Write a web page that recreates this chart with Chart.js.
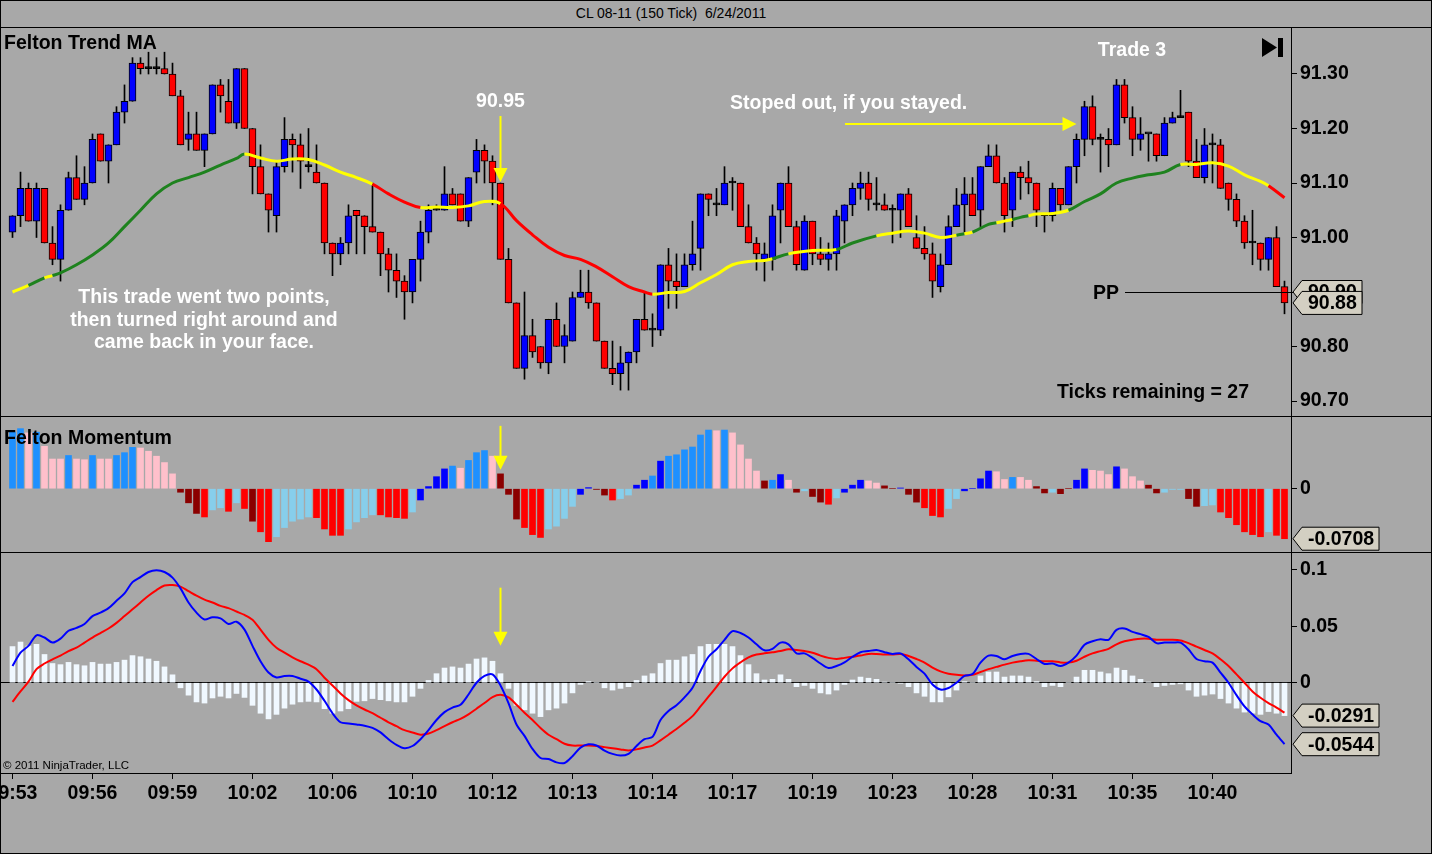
<!DOCTYPE html>
<html>
<head>
<meta charset="utf-8">
<title>CL 08-11 (150 Tick) 6/24/2011</title>
<script src="https://cdn.jsdelivr.net/npm/chart.js@4.4.1/dist/chart.umd.min.js"></script>
<style>
  html, body { margin: 0; padding: 0; background: #a8a8a8; }
  #page { position: relative; width: 1432px; height: 854px; overflow: hidden; background: #a8a8a8; font-family: "Liberation Sans", Arial, sans-serif; }
  #title { position: absolute; left: 0; top: 4px; width: 1342px; text-align: center; font-size: 14px; line-height: 18px; white-space: pre; color: #000; }
  canvas { position: absolute; left: 0; }
  .rule { position: absolute; left: 0; width: 1432px; height: 1px; background: #000; }
  #frame { position: absolute; left: 0; top: 0; width: 1432px; height: 854px; box-sizing: border-box; border: 1px solid #000; pointer-events: none; }
</style>
</head>
<body>
<div id="page">
  <div id="title">CL 08-11 (150 Tick)  6/24/2011</div>
  <canvas id="priceChart" width="1432" height="388" style="top:28px"></canvas>
  <canvas id="momChart" width="1432" height="136" style="top:416px"></canvas>
  <canvas id="macdChart" width="1432" height="302" style="top:552px"></canvas>
  <div class="rule" style="top:27px"></div>
  <div class="rule" style="top:416px"></div>
  <div class="rule" style="top:552px"></div>
  <div id="frame"></div>
</div>
<script>
// bar i sits at 12.5 + 8*i px in all three panels
var X_MIN = -1.5625, X_MAX = 159.8125;
var AXIS_W = 141;
var FONT = '"Liberation Sans", Arial, sans-serif';

// 150 tick bars
var opens = [
    91.01, 91.04, 91.09, 91.03, 91.09, 90.99, 90.96, 91.05, 91.11, 91.07,
    91.10, 91.19, 91.14, 91.17, 91.23, 91.25, 91.32, 91.31, 91.31, 91.31,
    91.30, 91.26, 91.18, 91.19, 91.16, 91.19, 91.28, 91.25, 91.21, 91.31,
    91.20, 91.13, 91.08, 91.04, 91.13, 91.18, 91.17, 91.13, 91.12, 91.10,
    90.99, 90.97, 90.99, 91.05, 91.04, 91.02, 91.01, 90.97, 90.94, 90.92,
    90.90, 90.96, 91.01, 91.05, 91.05, 91.08, 91.08, 91.03, 91.12, 91.16,
    91.14, 91.10, 90.96, 90.88, 90.76, 90.82, 90.80, 90.77, 90.85, 90.80,
    90.81, 90.89, 90.90, 90.88, 90.81, 90.76, 90.75, 90.77, 90.79, 90.85,
    90.83, 90.83, 90.95, 90.92, 90.91, 90.95, 90.98, 91.08, 91.06, 91.06,
    91.10, 91.10, 91.02, 90.99, 90.96, 90.96, 91.05, 91.10, 91.02, 90.94,
    91.03, 90.97, 90.96, 90.97, 91.03, 91.06, 91.09, 91.10, 91.06, 91.06,
    91.05, 91.05, 91.08, 91.00, 90.98, 90.97, 90.91, 90.95, 91.02, 91.06,
    91.08, 91.05, 91.13, 91.15, 91.10, 91.05, 91.12, 91.11, 91.10, 91.04,
    91.04, 91.09, 91.06, 91.13, 91.18, 91.24, 91.18, 91.18, 91.17, 91.28,
    91.22, 91.18, 91.19, 91.19, 91.15, 91.21, 91.22, 91.23, 91.14, 91.11,
    91.17, 91.17, 91.10, 91.07, 91.03, 90.99, 90.99, 90.96, 91.00, 90.91
];
var highs = [
    91.04, 91.12, 91.10, 91.10, 91.09, 91.02, 91.06, 91.12, 91.15, 91.13,
    91.19, 91.19, 91.17, 91.24, 91.28, 91.33, 91.33, 91.34, 91.33, 91.34,
    91.32, 91.27, 91.23, 91.23, 91.19, 91.28, 91.29, 91.29, 91.31, 91.31,
    91.20, 91.17, 91.08, 91.14, 91.22, 91.19, 91.19, 91.20, 91.17, 91.10,
    90.99, 91.00, 91.06, 91.05, 91.04, 91.10, 91.01, 90.98, 90.97, 90.93,
    90.96, 91.03, 91.06, 91.06, 91.13, 91.09, 91.08, 91.11, 91.18, 91.17,
    91.15, 91.10, 90.98, 90.88, 90.90, 90.85, 90.80, 90.85, 90.88, 90.84,
    90.90, 90.94, 90.94, 90.88, 90.81, 90.81, 90.80, 90.79, 90.85, 90.90,
    90.86, 90.95, 90.98, 90.97, 90.97, 91.03, 91.08, 91.08, 91.09, 91.13,
    91.11, 91.10, 91.06, 91.00, 90.99, 91.06, 91.10, 91.13, 91.03, 91.04,
    91.03, 91.00, 90.99, 91.05, 91.06, 91.10, 91.12, 91.12, 91.11, 91.08,
    91.06, 91.08, 91.09, 91.04, 91.02, 90.99, 90.97, 91.04, 91.09, 91.11,
    91.11, 91.13, 91.17, 91.17, 91.11, 91.12, 91.13, 91.14, 91.10, 91.04,
    91.10, 91.09, 91.13, 91.19, 91.25, 91.26, 91.19, 91.20, 91.29, 91.29,
    91.24, 91.22, 91.19, 91.19, 91.22, 91.23, 91.27, 91.23, 91.18, 91.20,
    91.19, 91.18, 91.10, 91.08, 91.04, 91.05, 90.99, 91.00, 91.02, 90.92
];
var lows = [
    91.00, 91.02, 91.03, 91.00, 90.99, 90.95, 90.92, 91.05, 91.07, 91.06,
    91.10, 91.14, 91.10, 91.17, 91.21, 91.25, 91.30, 91.30, 91.30, 91.30,
    91.26, 91.17, 91.16, 91.16, 91.13, 91.19, 91.23, 91.21, 91.20, 91.20,
    91.08, 91.08, 91.01, 91.01, 91.12, 91.12, 91.09, 91.12, 91.10, 90.97,
    90.93, 90.95, 90.97, 90.97, 90.97, 91.01, 90.93, 90.90, 90.89, 90.85,
    90.88, 90.92, 90.99, 91.05, 91.05, 91.06, 91.03, 91.02, 91.10, 91.10,
    91.06, 90.96, 90.88, 90.76, 90.74, 90.78, 90.76, 90.75, 90.80, 90.77,
    90.81, 90.89, 90.87, 90.81, 90.76, 90.73, 90.72, 90.72, 90.77, 90.83,
    90.80, 90.82, 90.87, 90.87, 90.91, 90.94, 90.94, 91.04, 91.04, 91.06,
    91.05, 91.02, 90.99, 90.94, 90.92, 90.94, 90.99, 91.02, 90.94, 90.94,
    90.95, 90.95, 90.94, 90.94, 90.99, 91.04, 91.07, 91.05, 91.05, 91.05,
    90.99, 91.00, 91.02, 90.98, 90.96, 90.89, 90.90, 90.95, 91.02, 91.01,
    91.04, 91.02, 91.13, 91.10, 91.01, 91.02, 91.07, 91.08, 91.02, 91.01,
    91.03, 91.05, 91.06, 91.10, 91.15, 91.17, 91.12, 91.13, 91.17, 91.21,
    91.15, 91.16, 91.14, 91.14, 91.15, 91.21, 91.22, 91.13, 91.11, 91.10,
    91.10, 91.09, 91.05, 91.02, 90.98, 90.95, 90.94, 90.94, 90.91, 90.86
];
var closes = [
    91.04, 91.09, 91.03, 91.09, 90.99, 90.96, 91.05, 91.11, 91.07, 91.10,
    91.18, 91.14, 91.17, 91.23, 91.25, 91.32, 91.31, 91.31, 91.31, 91.30,
    91.26, 91.17, 91.19, 91.16, 91.19, 91.28, 91.26, 91.21, 91.31, 91.20,
    91.13, 91.08, 91.05, 91.13, 91.18, 91.17, 91.14, 91.13, 91.10, 90.99,
    90.97, 90.99, 91.04, 91.04, 91.02, 91.01, 90.97, 90.94, 90.92, 90.90,
    90.96, 91.01, 91.05, 91.05, 91.08, 91.06, 91.03, 91.11, 91.16, 91.14,
    91.10, 90.96, 90.88, 90.76, 90.82, 90.79, 90.77, 90.85, 90.80, 90.82,
    90.89, 90.90, 90.88, 90.81, 90.76, 90.75, 90.77, 90.79, 90.85, 90.83,
    90.83, 90.95, 90.92, 90.91, 90.95, 90.97, 91.08, 91.07, 91.06, 91.10,
    91.10, 91.02, 90.99, 90.97, 90.97, 91.04, 91.10, 91.02, 90.95, 91.03,
    90.97, 90.96, 90.97, 91.04, 91.06, 91.09, 91.10, 91.07, 91.06, 91.05,
    91.05, 91.08, 91.02, 90.98, 90.97, 90.92, 90.95, 91.02, 91.06, 91.08,
    91.04, 91.13, 91.15, 91.10, 91.04, 91.12, 91.11, 91.10, 91.05, 91.04,
    91.09, 91.06, 91.13, 91.18, 91.24, 91.18, 91.18, 91.17, 91.28, 91.22,
    91.18, 91.19, 91.19, 91.15, 91.21, 91.22, 91.22, 91.14, 91.11, 91.17,
    91.17, 91.09, 91.07, 91.03, 90.99, 90.99, 90.96, 91.00, 90.91, 90.88
];

// Felton Trend MA, sampled along the line; trend u = rising, f = flat, d = falling
var maBars = [0, 2, 4, 5, 6, 8, 10, 12, 14, 16, 18, 20, 22, 24, 26, 28, 29, 31, 33, 35,
    37, 39, 41, 43, 45, 47, 49, 51, 53, 55, 57, 59, 61, 63, 65, 67, 69, 71, 73, 75,
    77, 79, 80, 82, 84, 86, 88, 90, 92, 94, 95, 97, 100, 103, 105, 108, 110, 112, 114, 116,
    118, 119, 120, 122, 123, 124, 125, 126, 127, 128, 130, 132, 134, 136, 138, 140, 142, 144, 146, 148,
    150, 152, 154, 156, 157, 159];
var maValues = [90.900, 90.912, 90.926, 90.930, 90.935, 90.950, 90.968, 90.990, 91.020, 91.050,
    91.080, 91.100, 91.110, 91.120, 91.133, 91.145, 91.153, 91.146, 91.140, 91.144,
    91.143, 91.133, 91.120, 91.110, 91.098, 91.080, 91.065, 91.055, 91.056, 91.055,
    91.058, 91.066, 91.062, 91.031, 91.005, 90.982, 90.967, 90.960, 90.946, 90.928,
    90.910, 90.900, 90.896, 90.899, 90.901, 90.917, 90.932, 90.950, 90.956, 90.958,
    90.961, 90.970, 90.976, 90.978, 90.990, 91.003, 91.008, 91.012, 91.008, 91.000,
    91.004, 91.007, 91.010, 91.024, 91.027, 91.030, 91.033, 91.037, 91.040, 91.043,
    91.044, 91.050, 91.066, 91.080, 91.100, 91.109, 91.115, 91.120, 91.134, 91.134,
    91.137, 91.131, 91.115, 91.103, 91.095, 91.073];
var maTrend = ['f', 'u', 'f', 'u', 'u', 'u', 'u', 'u', 'u', 'u', 'u', 'u', 'u', 'u', 'u', 'u', 'f', 'f', 'f', 'f',
    'f', 'f', 'f', 'f', 'd', 'd', 'd', 'f', 'f', 'f', 'f', 'f', 'd', 'd', 'd', 'd', 'd', 'd', 'd', 'd',
    'd', 'd', 'f', 'f', 'f', 'f', 'f', 'f', 'f', 'f', 'u', 'f', 'f', 'u', 'u', 'f', 'f', 'f', 'f', 'f',
    'u', 'f', 'u', 'u', 'f', 'f', 'u', 'u', 'f', 'f', 'f', 'u', 'u', 'u', 'u', 'u', 'u', 'u', 'f', 'f',
    'f', 'f', 'f', 'f', 'd', 'd'];

// Felton Momentum histogram and its colour state per bar
var momentum = [
    0.080, 0.085, 0.079, 0.080, 0.060, 0.042, 0.042, 0.047, 0.042, 0.041,
    0.047, 0.042, 0.042, 0.047, 0.051, 0.0585, 0.0576, 0.053, 0.046, 0.037,
    0.021, -0.005, -0.020, -0.035, -0.040, -0.030, -0.027, -0.032, -0.020, -0.028,
    -0.046, -0.061, -0.075, -0.068, -0.055, -0.046, -0.043, -0.040, -0.041, -0.057,
    -0.066, -0.066, -0.057, -0.047, -0.041, -0.037, -0.037, -0.040, -0.041, -0.042,
    -0.033, -0.016, 0.003, 0.017, 0.028, 0.032, 0.029, 0.040, 0.051, 0.054,
    0.046, 0.021, -0.008, -0.043, -0.055, -0.065, -0.069, -0.057, -0.053, -0.042,
    -0.025, -0.008, 0.0015, -0.001, -0.009, -0.016, -0.014, -0.009, 0.005, 0.012,
    0.018, 0.039, 0.046, 0.048, 0.055, 0.059, 0.076, 0.083, 0.082, 0.083,
    0.079, 0.062, 0.042, 0.025, 0.011, 0.012, 0.020, 0.012, -0.005, -0.003,
    -0.011, -0.019, -0.022, -0.013, -0.005, 0.005, 0.012, 0.011, 0.008, 0.004,
    0.000, 0.001, -0.008, -0.019, -0.027, -0.038, -0.040, -0.028, -0.014, -0.003,
    0.000, 0.014, 0.025, 0.024, 0.013, 0.016, 0.016, 0.012, 0.003, -0.006,
    -0.005, -0.007, 0.000, 0.012, 0.028, 0.026, 0.025, 0.020, 0.031, 0.028,
    0.017, 0.011, 0.005, -0.006, -0.005, -0.001, -0.001, -0.014, -0.025, -0.024,
    -0.023, -0.033, -0.041, -0.051, -0.061, -0.065, -0.068, -0.061, -0.066, -0.0708
];
// D dodger blue, B blue, P pink, M dark red, R red, L light blue
var momState = ('DDPDPPPDPPDPPDDDPPPPP' + 'MMMRLLRLRMRRLLLLLRR' +
    'RRLLLLRRRRLBBBBDPDDD' + 'PMMMRRRLLLLBBMMRLLBB' + 'DBDDDDDDPDPPPPMDBPML' +
    'MMRLBBBPPMMBMMRRRLLB' + 'BBBPPDPPMMLMMBBPPPBP' + 'PPMMLLLMMLLRRRRRRLRR').split('');

// MACD panel: histogram, fast line, signal line
var macdHist = [
    0.032, 0.036, 0.0325, 0.034, 0.025, 0.017, 0.016, 0.018, 0.016, 0.015,
    0.018, 0.0165, 0.0165, 0.018, 0.020, 0.024, 0.023, 0.021, 0.019, 0.014,
    0.007, -0.0045, -0.011, -0.017, -0.018, -0.0135, -0.012, -0.0135, -0.0095, -0.013,
    -0.020, -0.027, -0.032, -0.028, -0.0225, -0.019, -0.017, -0.0165, -0.017, -0.023,
    -0.027, -0.025, -0.023, -0.0165, -0.016, -0.014, -0.015, -0.016, -0.017, -0.017,
    -0.012, -0.005, 0.002, 0.008, 0.013, 0.014, 0.013, 0.0165, 0.021, 0.022,
    0.019, 0.008, -0.005, -0.020, -0.024, -0.027, -0.030, -0.024, -0.0225, -0.018,
    -0.009, -0.0015, 0.001, 0.000, -0.0045, -0.0065, -0.005, -0.0035, 0.002, 0.006,
    0.008, 0.017, 0.020, 0.020, 0.023, 0.025, 0.032, 0.034, 0.034, 0.034,
    0.032, 0.024, 0.016, 0.008, 0.0024, 0.003, 0.007, 0.003, -0.0035, -0.0024,
    -0.005, -0.009, -0.010, -0.0065, -0.0015, 0.0024, 0.005, 0.004, 0.003, 0.0006,
    0.000, -0.0005, -0.0035, -0.009, -0.012, -0.017, -0.017, -0.0125, -0.0065, 0.001,
    0.000, 0.006, 0.0095, 0.0095, 0.005, 0.006, 0.006, 0.005, 0.001, -0.0035,
    -0.0024, -0.0035, 0.000, 0.005, 0.011, 0.011, 0.0095, 0.008, 0.013, 0.011,
    0.006, 0.003, 0.0006, -0.0035, -0.0024, -0.0015, -0.001, -0.0065, -0.012, -0.011,
    -0.010, -0.014, -0.018, -0.0225, -0.026, -0.027, -0.028, -0.0255, -0.027, -0.0291
];
var macdLine = [
    0.0148, 0.0266, 0.0326, 0.042, 0.040, 0.0355, 0.039, 0.046, 0.0485, 0.052,
    0.059, 0.062, 0.066, 0.0725, 0.079, 0.089, 0.0935, 0.098, 0.0995, 0.098,
    0.093, 0.0835, 0.071, 0.062, 0.056, 0.058, 0.057, 0.052, 0.054, 0.047,
    0.0326, 0.019, 0.009, 0.0047, 0.006, 0.006, 0.0035, 0.001, -0.006, -0.016,
    -0.027, -0.035, -0.036, -0.037, -0.038, -0.040, -0.044, -0.050, -0.055, -0.058,
    -0.056, -0.050, -0.042, -0.033, -0.026, -0.022, -0.0195, -0.0104, 0.000, 0.006,
    0.0074, -0.0024, -0.018, -0.037, -0.047, -0.0586, -0.0666, -0.0675, -0.0705, -0.071,
    -0.065, -0.0574, -0.0545, -0.0556, -0.060, -0.063, -0.0645, -0.063, -0.056, -0.050,
    -0.048, -0.033, -0.025, -0.020, -0.013, -0.0044, 0.0104, 0.023, 0.0296, 0.038,
    0.0456, 0.044, 0.040, 0.034, 0.0287, 0.030, 0.0355, 0.034, 0.026, 0.026,
    0.022, 0.017, 0.013, 0.0148, 0.018, 0.023, 0.027, 0.028, 0.029, 0.027,
    0.0255, 0.026, 0.0207, 0.014, 0.008, -0.0015, -0.006, -0.0047, 0.000, 0.006,
    0.0077, 0.0178, 0.024, 0.0237, 0.0207, 0.0237, 0.0255, 0.0255, 0.021, 0.0166,
    0.017, 0.0148, 0.0178, 0.024, 0.0337, 0.0367, 0.0385, 0.038, 0.0468, 0.048,
    0.045, 0.043, 0.0405, 0.035, 0.0355, 0.0355, 0.0355, 0.0296, 0.021, 0.019,
    0.0178, 0.009, 0.000, -0.011, -0.021, -0.028, -0.034, -0.037, -0.046, -0.0544
];
var signalLine = [
    -0.017, -0.0077, 0.001, 0.012, 0.017, 0.0207, 0.024, 0.028, 0.031, 0.0355,
    0.040, 0.044, 0.048, 0.053, 0.059, 0.065, 0.071, 0.077, 0.082, 0.086,
    0.0865, 0.085, 0.081, 0.077, 0.0735, 0.071, 0.068, 0.066, 0.063, 0.060,
    0.0557, 0.047, 0.038, 0.031, 0.0266, 0.0225, 0.019, 0.016, 0.012, 0.0044,
    -0.0024, -0.0095, -0.0154, -0.020, -0.0237, -0.027, -0.031, -0.035, -0.0385, -0.042,
    -0.044, -0.046, -0.045, -0.042, -0.0385, -0.035, -0.032, -0.028, -0.023, -0.018,
    -0.0127, -0.0107, -0.013, -0.0195, -0.0266, -0.033, -0.040, -0.046, -0.050, -0.054,
    -0.0556, -0.0556, -0.0556, -0.056, -0.057, -0.058, -0.059, -0.060, -0.059, -0.0574,
    -0.0556, -0.051, -0.046, -0.041, -0.0355, -0.0296, -0.021, -0.0124, -0.0036, 0.0053,
    0.0127, 0.018, 0.0225, 0.025, 0.026, 0.027, 0.028, 0.0296, 0.029, 0.028,
    0.0266, 0.024, 0.022, 0.021, 0.022, 0.023, 0.024, 0.0255, 0.0255, 0.025,
    0.025, 0.0255, 0.0237, 0.021, 0.0178, 0.0133, 0.010, 0.008, 0.007, 0.0065,
    0.007, 0.0095, 0.012, 0.014, 0.016, 0.0178, 0.019, 0.0198, 0.0195, 0.019,
    0.019, 0.018, 0.0178, 0.0195, 0.023, 0.026, 0.028, 0.030, 0.034, 0.0367,
    0.038, 0.039, 0.039, 0.038, 0.038, 0.038, 0.0373, 0.035, 0.032, 0.029,
    0.026, 0.0207, 0.0148, 0.0074, 0.000, -0.0077, -0.0133, -0.018, -0.022, -0.0265
];

var priceTicks = [90.70, 90.80, 90.90, 91.00, 91.10, 91.20, 91.30];
var momTicks = [0];
var macdTicks = [0, 0.05, 0.1];
var timeTickBars = [0, 10, 20, 30, 40, 50, 60, 70, 80, 90, 100, 110, 120, 130, 140, 150];
var timeLabels = ['09:53', '09:56', '09:59', '10:02', '10:06', '10:10', '10:12', '10:13',
    '10:14', '10:17', '10:19', '10:23', '10:28', '10:31', '10:35', '10:40'];
var ppLevel = 90.90;
var macdTags = [-0.0291, -0.0544];
var signalBar = 61;

var trendColor = { u: '#1e821e', f: '#ffff00', d: '#ff0000' };
var momColor = { D: '#1e90ff', B: '#0000ff', P: '#ffc0cb', M: '#8b0000', R: '#ff0000', L: '#87ceeb' };

Chart.defaults.font.family = FONT;
Chart.defaults.color = '#000';

function byBar(values) {
    return values.map(function (v, i) { return { x: i, y: v }; });
}

function hiddenX() {
    return { type: 'linear', display: false, min: X_MIN, max: X_MAX, bounds: 'data', offset: false };
}

function rightAxis(min, max, tickValues, fmt, zeroLine) {
    return {
        position: 'right', min: min, max: max, bounds: 'data',
        afterBuildTicks: function (s) { s.ticks = tickValues.map(function (v) { return { value: v }; }); },
        afterFit: function (s) { s.width = AXIS_W; s.paddingTop = 0; s.paddingBottom = 0; },
        ticks: { color: '#000', padding: 3, autoSkip: false, font: { size: 19.5, weight: 'bold' }, callback: fmt },
        grid: {
            drawOnChartArea: !!zeroLine, tickColor: '#000', tickLength: 6, lineWidth: 1,
            color: function (c) { return c.tick && c.tick.value === 0 ? '#000' : 'rgba(0,0,0,0)'; }
        },
        border: { display: true, color: '#000', width: 1 }
    };
}

function baseOptions() {
    return {
        responsive: false, animation: false, events: [],
        layout: { padding: 0 },
        plugins: { legend: { display: false }, tooltip: { enabled: false } }
    };
}

function text(ctx, str, x, y, color, align, size, weight) {
    ctx.font = (weight || 'bold') + ' ' + (size || 19.5) + 'px ' + FONT;
    ctx.fillStyle = color;
    ctx.textAlign = align || 'left';
    ctx.textBaseline = 'middle';
    ctx.fillText(str, x, y);
}

function arrowDown(ctx, x, tipY, len) {
    ctx.strokeStyle = '#ffff00';
    ctx.fillStyle = '#ffff00';
    ctx.lineWidth = 2;
    ctx.beginPath();
    ctx.moveTo(x, tipY - len);
    ctx.lineTo(x, tipY - 12);
    ctx.stroke();
    ctx.beginPath();
    ctx.moveTo(x - 7, tipY - 14);
    ctx.lineTo(x + 7, tipY - 14);
    ctx.lineTo(x, tipY);
    ctx.closePath();
    ctx.fill();
}

function tag(ctx, tipX, y, w, str) {
    var h = 23, x0 = tipX + 9;
    ctx.beginPath();
    ctx.moveTo(tipX, y);
    ctx.lineTo(x0, y - h / 2);
    ctx.lineTo(x0 + w, y - h / 2);
    ctx.lineTo(x0 + w, y + h / 2);
    ctx.lineTo(x0, y + h / 2);
    ctx.closePath();
    ctx.fillStyle = '#d3cfc2';
    ctx.fill();
    ctx.strokeStyle = '#000';
    ctx.lineWidth = 1;
    ctx.stroke();
    text(ctx, str, x0 + 6, y + 1, '#000', 'left');
}

// ---- price panel ----
var candleColors = closes.map(function (c, i) {
    if (c > opens[i]) return '#0000ff';
    if (c < opens[i]) return '#ff0000';
    return '#000000';
});

var priceNotes = {
    id: 'priceNotes',
    afterDraw: function (chart) {
        var ctx = chart.ctx, xs = chart.scales.x, ys = chart.scales.y, area = chart.chartArea;
        ctx.save();
        text(ctx, 'Felton Trend MA', 4, 16, '#000');
        text(ctx, 'Trade 3', 1132, 23, '#fff', 'center');
        text(ctx, '90.95', xs.getPixelForValue(signalBar), 74, '#fff', 'center');
        arrowDown(ctx, xs.getPixelForValue(signalBar), ys.getPixelForValue(opens[signalBar]) - 1, 66);
        text(ctx, 'Stoped out, if you stayed.', 730, 76, '#fff');
        // horizontal arrow towards the stop bar
        var tipX = xs.getPixelForValue(133);
        ctx.strokeStyle = '#ffff00'; ctx.fillStyle = '#ffff00'; ctx.lineWidth = 2;
        ctx.beginPath(); ctx.moveTo(845, 96); ctx.lineTo(tipX - 12, 96); ctx.stroke();
        ctx.beginPath(); ctx.moveTo(tipX - 14, 89); ctx.lineTo(tipX - 14, 103); ctx.lineTo(tipX, 96); ctx.closePath(); ctx.fill();
        // end-of-chart icon
        ctx.fillStyle = '#000';
        ctx.beginPath(); ctx.moveTo(1262, 10); ctx.lineTo(1262, 29); ctx.lineTo(1277, 19.5); ctx.closePath(); ctx.fill();
        ctx.fillRect(1278, 10, 5, 19);
        text(ctx, 'This trade went two points,', 204, 270, '#fff', 'center');
        text(ctx, 'then turned right around and', 204, 292.5, '#fff', 'center');
        text(ctx, 'came back in your face.', 204, 315, '#fff', 'center');
        text(ctx, 'Ticks remaining = 27', 1057, 365, '#000');
        // pivot line
        var ppY = Math.round(ys.getPixelForValue(ppLevel)) + 0.5;
        ctx.strokeStyle = '#000'; ctx.lineWidth = 1;
        ctx.beginPath(); ctx.moveTo(1125, ppY); ctx.lineTo(area.right, ppY); ctx.stroke();
        text(ctx, 'PP', 1119, ppY + 1, '#000', 'right');
        tag(ctx, 1293, ys.getPixelForValue(ppLevel), 60, ppLevel.toFixed(2));
        tag(ctx, 1293, ys.getPixelForValue(closes[closes.length - 1]), 60, closes[closes.length - 1].toFixed(2));
        ctx.restore();
    }
};

var priceOpts = baseOptions();
priceOpts.scales = {
    x: hiddenX(),
    y: rightAxis(90.6725, 91.3844, priceTicks, function (v) { return v.toFixed(2); }, false)
};

new Chart(document.getElementById('priceChart'), {
    type: 'bar',
    data: {
        datasets: [
            {
                type: 'line', data: maBars.map(function (b, k) { return { x: b, y: maValues[k] }; }),
                borderColor: '#1e821e', borderWidth: 3, pointRadius: 0, tension: 0.4, fill: false,
                segment: { borderColor: function (c) { return trendColor[maTrend[c.p0DataIndex]]; } }
            },
            {
                data: opens.map(function (o, i) { return { x: i, y: [o, closes[i]] }; }),
                backgroundColor: candleColors, borderColor: '#000', borderWidth: 1, borderSkipped: false,
                barThickness: 7, minBarLength: 2, grouped: false
            },
            {
                data: lows.map(function (l, i) { return { x: i, y: [l, highs[i]] }; }),
                backgroundColor: '#000', borderWidth: 0, barThickness: 1, grouped: false
            }
        ]
    },
    options: priceOpts,
    plugins: [priceNotes]
});

// ---- momentum panel ----
var momNotes = {
    id: 'momNotes',
    afterDraw: function (chart) {
        var ctx = chart.ctx, xs = chart.scales.x, ys = chart.scales.y;
        ctx.save();
        text(ctx, 'Felton Momentum', 4, 23, '#000');
        arrowDown(ctx, xs.getPixelForValue(signalBar), ys.getPixelForValue(momentum[signalBar]) - 4, 44);
        var last = momentum[momentum.length - 1];
        tag(ctx, 1293, ys.getPixelForValue(last), 77, last.toFixed(4));
        ctx.restore();
    }
};

var momOpts = baseOptions();
momOpts.scales = {
    x: hiddenX(),
    y: rightAxis(-0.0896, 0.1029, momTicks, function (v) { return String(v); }, false)
};

new Chart(document.getElementById('momChart'), {
    type: 'bar',
    data: {
        datasets: [{
            data: byBar(momentum),
            backgroundColor: momState.map(function (s) { return momColor[s]; }),
            borderWidth: 0, barThickness: 6
        }]
    },
    options: momOpts,
    plugins: [momNotes]
});

// ---- MACD panel ----
var macdNotes = {
    id: 'macdNotes',
    afterDraw: function (chart) {
        var ctx = chart.ctx, xs = chart.scales.x, ys = chart.scales.y, area = chart.chartArea;
        ctx.save();
        arrowDown(ctx, xs.getPixelForValue(signalBar), ys.getPixelForValue(macdHist[signalBar]) - 28, 58);
        macdTags.forEach(function (v) { tag(ctx, 1293, ys.getPixelForValue(v), 77, v.toFixed(4)); });
        text(ctx, '\u00a9 2011 NinjaTrader, LLC', 3, area.bottom - 7, '#000', 'left', 11.5, 'normal');
        ctx.restore();
    }
};

var macdOpts = baseOptions();
macdOpts.scales = {
    x: {
        type: 'linear', min: X_MIN, max: X_MAX, bounds: 'data', offset: false,
        afterBuildTicks: function (s) { s.ticks = timeTickBars.map(function (v) { return { value: v }; }); },
        afterFit: function (s) { s.height = 81; s.paddingLeft = 0; s.paddingRight = 0; },
        ticks: {
            color: '#000', padding: 3, maxRotation: 0, autoSkip: false,
            font: { size: 19.5, weight: 'bold' },
            callback: function (v) { return timeLabels[timeTickBars.indexOf(v)]; }
        },
        grid: { drawOnChartArea: false, offset: false, color: '#000', tickColor: '#000', tickLength: 6 },
        border: { display: true, color: '#000', width: 1 }
    },
    y: rightAxis(-0.0799, 0.1157, macdTicks, function (v) { return String(v); }, true)
};

new Chart(document.getElementById('macdChart'), {
    type: 'bar',
    data: {
        datasets: [
            { type: 'line', data: byBar(macdLine), borderColor: '#0000ff', borderWidth: 2, pointRadius: 0, tension: 0.3, fill: false },
            { type: 'line', data: byBar(signalLine), borderColor: '#ff0000', borderWidth: 2, pointRadius: 0, tension: 0.3, fill: false },
            { data: byBar(macdHist), backgroundColor: '#f0f8ff', borderWidth: 0, barThickness: 5 }
        ]
    },
    options: macdOpts,
    plugins: [macdNotes]
});
</script>
</body>
</html>
